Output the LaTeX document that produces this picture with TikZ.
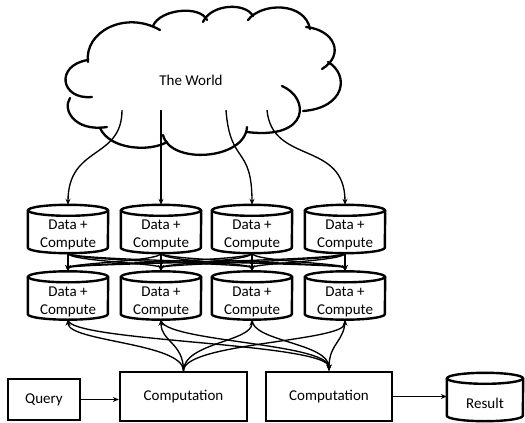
\documentclass[tikz,border=0pt]{standalone}
\usepackage{fontspec}
\setmainfont{Carlito}
\usetikzlibrary{arrows.meta,calc}

% outline of a drum (database) around a named node; #2 = half width in pt
\newcommand\drumoutline[2]{%
  \draw[outline] ($(#1.north west)+(0,5.5)$) -- ($(#1.south west)+(0,-5.5)$)
    arc[start angle=180,end angle=360,x radius=#2pt,y radius=5.5pt]
    -- ($(#1.north east)+(0,5.5)$);
  \draw[outline] ($(#1.north)+(0,5.5)$) ellipse[x radius=#2pt,y radius=5.5pt];}

\begin{document}
\begin{tikzpicture}[x=1pt,y=-1pt,
  outline/.style={line width=2.4pt},
  cloudline/.style={line width=2.3pt, line cap=round},
  link/.style={line width=1.35pt, -{Stealth[length=6pt,width=5pt,inset=2pt]}},
  txt/.style={font=\fontsize{15}{18}\selectfont},
  drum/.style={minimum width=80pt, minimum height=48pt, inner sep=0pt},
  dclab/.style={txt, align=center, inner sep=0pt, yshift=-6pt},
  dc/.style={drum, label={[dclab]center:{Data +\\Compute}}},
  block/.style={draw, outline, txt, inner sep=0pt},
]
\useasboundingbox (0,0) rectangle (525,423);

% ---- the cloud ----
\node[txt] (world) at (191,80) {The World};
\draw[cloudline] (88,62) .. controls (84,32) and (125,10) .. (160,30);
\draw[cloudline] (153,26) .. controls (160,9) and (200,5) .. (207,20);
\draw[cloudline] (203,22) .. controls (211,4) and (245,2) .. (253,16);
\draw[cloudline] (248,20) .. controls (262,2) and (305,2) .. (310,29);
\draw[cloudline] (306,27) .. controls (335,30) and (345,55) .. (322,69);
\draw[cloudline] (328,62) .. controls (350,75) and (345,108) .. (303,111);
\draw[cloudline] (282,86) .. controls (310,98) and (310,140) .. (247,132);
\draw[cloudline] (247,127) .. controls (245,160) and (170,165) .. (163,135);
\draw[cloudline] (167,142) .. controls (150,152) and (110,150) .. (100,128);
\draw[cloudline] (107,127) .. controls (75,132) and (62,110) .. (70,98);
\draw[cloudline] (92,97) .. controls (60,100) and (55,65) .. (88,60);

% ---- first row of data + compute drums ----
\node[dc] (r1a) at (68,229) {};
\node[dc] (r1b) at (161,229) {};
\node[dc] (r1c) at (252,229) {};
\node[dc] (r1d) at (345,229) {};
% ---- second row ----
\node[dc] (r2a) at (68,295.5) {};
\node[dc] (r2b) at (161,295.5) {};
\node[dc] (r2c) at (252,295.5) {};
\node[dc] (r2d) at (345,295.5) {};
\foreach \n in {r1a,r1b,r1c,r1d,r2a,r2b,r2c,r2d} {\drumoutline{\n}{40}}

% ---- bottom row ----
\node[block, minimum width=72pt, minimum height=41pt] (q) at (44,399.5) {Query};
\node[block, minimum width=127pt, minimum height=49pt] (c1) at (183.5,396.5) {Computation};
\node[block, minimum width=126pt, minimum height=49pt] (c2) at (329,396.5) {Computation};
\node[drum, minimum width=76pt, label={[dclab]center:Result}] (res) at (485,397) {};
\drumoutline{res}{38}

% ---- connectors: cloud to first row ----
\coordinate (s1) at (122,110);
\coordinate (s2) at (161,110);
\coordinate (s3) at (226,110);
\coordinate (s4) at (267,110);
\draw[link] (s1) .. controls (122,160) and (68,145) .. (r1a.north);
\draw[link] (s2) -- (r1b.north);
\draw[link] (s3) .. controls (230,165) and (252,145) .. (r1c.north);
\draw[link] (s4) .. controls (272,165) and (345,140) .. (r1d.north);

% ---- shuffle between the rows ----
\foreach \a in {r1a,r1b,r1c,r1d} {
  \foreach \b in {r2a,r2b,r2c,r2d} {
    \draw[link] (\a.south) .. controls +(0,8) and +(0,-8) .. (\b.north);
  }
}

% ---- second row to the computations ----
\foreach \n in {r2a,r2b,r2c,r2d} {
  \draw[link] (c1.north) .. controls +(0,-28) and +(0,22) .. (\n.south);
  \draw[link] (\n.south) .. controls +(0,22) and +(0,-28) .. (c2.north);
}

\draw[link] (q.east) -- (q.east -| c1.west);
\draw[link] (c2.east) -- (c2.east -| res.west);
\end{tikzpicture}
\end{document}
